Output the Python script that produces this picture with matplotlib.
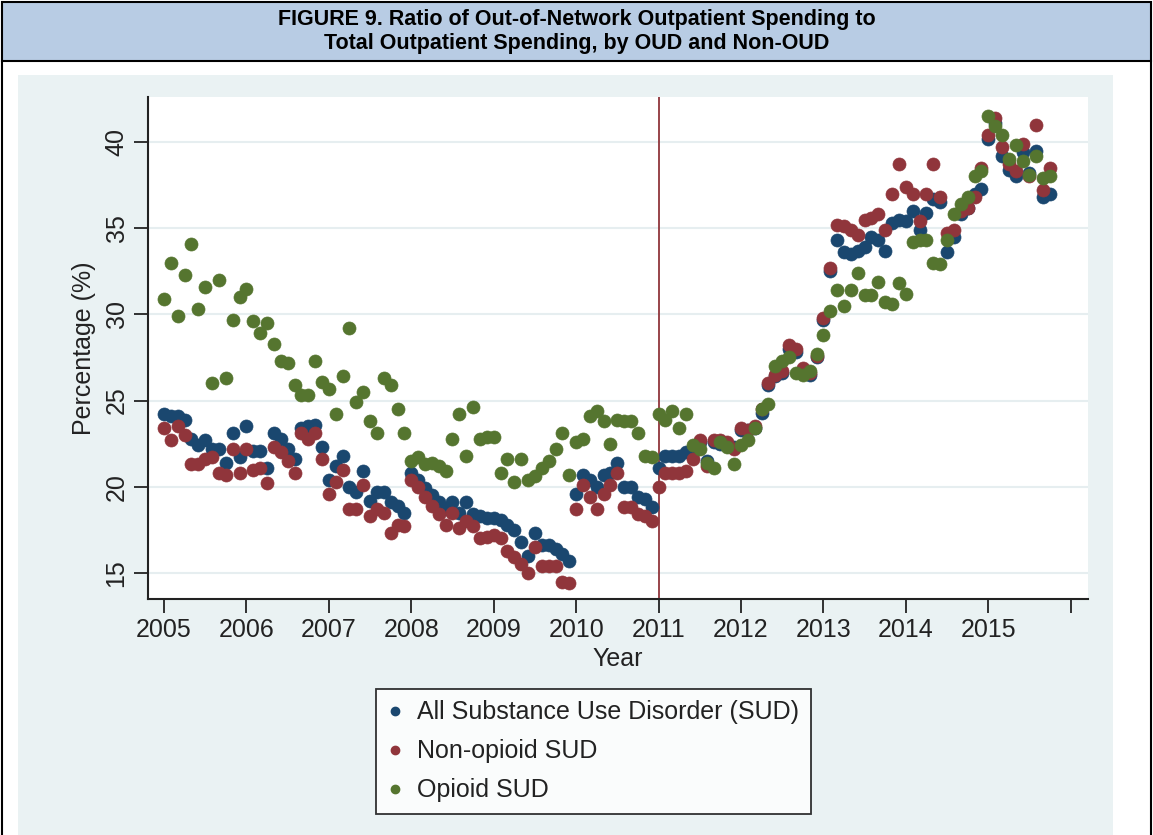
import numpy as np
import matplotlib
matplotlib.use("Agg")
import matplotlib.pyplot as plt
from matplotlib.patches import Rectangle
from matplotlib.lines import Line2D

# Monthly series, Jan 2005 - Oct 2015 (percent of outpatient spending out-of-network)
start_year = 2005
all_sud = [
    24.2, 24.1, 24.1, 23.9, 22.8, 22.4, 22.7, 22.2, 22.2, 21.4, 23.1, 21.7,  # 2005
    23.5, 22.1, 22.1, 21.1, 23.1, 22.8, 22.2, 21.6, 23.4, 23.5, 23.6, 22.3,  # 2006
    20.4, 21.2, 21.8, 20.0, 19.7, 20.9, 19.2, 19.7, 19.7, 19.1, 18.9, 18.5,  # 2007
    20.8, 20.4, 19.9, 19.5, 19.1, 18.7, 19.1, 18.5, 19.1, 18.4, 18.3, 18.2,  # 2008
    18.2, 18.1, 17.8, 17.5, 16.8, 16.0, 17.3, 16.6, 16.6, 16.4, 16.1, 15.7,  # 2009
    19.6, 20.7, 20.4, 20.0, 20.7, 20.8, 21.4, 20.0, 20.0, 19.4, 19.3, 18.8,  # 2010
    21.1, 21.8, 21.8, 21.8, 22.0, 22.0, 22.6, 21.5, 22.6, 22.5, 22.5, 22.3,  # 2011
    23.3, 23.3, 23.4, 24.3, 25.9, 26.4, 26.6, 28.0, 27.8, 26.8, 26.5, 27.5,  # 2012
    29.7, 32.5, 34.3, 33.6, 33.5, 33.7, 33.9, 34.5, 34.3, 33.7, 35.3, 35.5,  # 2013
    35.4, 36.0, 34.9, 35.9, 36.7, 36.5, 33.6, 34.5, 35.8, 36.2, 37.0, 37.3,  # 2014
    40.2, 41.1, 39.2, 38.4, 38.0, 39.4, 38.2, 39.5, 36.8, 37.0,              # 2015
]
non_opioid = [
    23.4, 22.7, 23.5, 23.0, 21.3, 21.3, 21.6, 21.7, 20.8, 20.7, 22.2, 20.8,
    22.2, 21.0, 21.1, 20.2, 22.3, 22.0, 21.5, 20.8, 23.1, 22.8, 23.1, 21.6,
    19.6, 20.3, 21.0, 18.7, 18.7, 20.1, 18.3, 18.7, 18.5, 17.3, 17.8, 17.7,
    20.4, 20.0, 19.4, 18.9, 18.4, 17.8, 18.5, 17.6, 18.0, 17.7, 17.0, 17.1,
    17.2, 17.0, 16.3, 15.9, 15.5, 15.0, 16.5, 15.4, 15.4, 15.4, 14.5, 14.4,
    18.7, 20.1, 19.4, 18.7, 19.6, 20.1, 20.8, 18.8, 18.8, 18.4, 18.3, 18.0,
    20.0, 20.8, 20.8, 20.8, 20.9, 21.6, 22.7, 21.2, 22.7, 22.7, 22.6, 22.2,
    23.4, 23.3, 23.5, 24.5, 26.0, 26.5, 26.7, 28.2, 28.0, 26.9, 26.6, 27.6,
    29.8, 32.7, 35.2, 35.1, 34.9, 34.6, 35.5, 35.6, 35.8, 34.9, 37.0, 38.7,
    37.4, 37.0, 35.4, 37.0, 38.7, 36.8, 34.7, 34.9, 36.0, 36.2, 36.8, 38.5,
    40.4, 41.4, 39.7, 38.7, 38.3, 39.9, 38.0, 41.0, 37.2, 38.5,
]
opioid = [
    30.9, 33.0, 29.9, 32.3, 34.1, 30.3, 31.6, 26.0, 32.0, 26.3, 29.7, 31.0,
    31.5, 29.6, 28.9, 29.5, 28.3, 27.3, 27.2, 25.9, 25.3, 25.3, 27.3, 26.1,
    25.7, 24.2, 26.4, 29.2, 24.9, 25.5, 23.8, 23.1, 26.3, 25.9, 24.5, 23.1,
    21.5, 21.7, 21.3, 21.4, 21.2, 20.9, 22.8, 24.2, 21.8, 24.6, 22.8, 22.9,
    22.9, 20.8, 21.6, 20.3, 21.6, 20.4, 20.6, 21.1, 21.5, 22.2, 23.1, 20.7,
    22.6, 22.8, 24.1, 24.4, 23.8, 22.5, 23.9, 23.8, 23.8, 23.1, 21.8, 21.7,
    24.2, 23.9, 24.4, 23.4, 24.2, 22.4, 22.2, 21.4, 21.1, 22.6, 22.3, 21.3,
    22.4, 22.7, 23.4, 24.5, 24.8, 27.0, 27.3, 27.5, 26.6, 26.5, 26.7, 27.7,
    28.8, 30.2, 31.4, 30.5, 31.4, 32.4, 31.1, 31.1, 31.9, 30.7, 30.6, 31.8,
    31.2, 34.2, 34.3, 34.3, 33.0, 32.9, 34.3, 35.8, 36.4, 36.8, 38.0, 38.3,
    41.5, 40.9, 40.4, 39.0, 39.8, 38.9, 38.1, 39.2, 37.9, 38.0,
]
labels = ["All Substance Use Disorder (SUD)", "Non-opioid SUD", "Opioid SUD"]
colors = ["#1a476f", "#90353b", "#55752f"]
year_ticks = list(range(2005, 2017))
y_ticks = [15, 20, 25, 30, 35, 40]
policy_year = 2011

months = np.arange(len(all_sud))
x = start_year + months / 12.0

W, H = 1153, 835
fig = plt.figure(figsize=(W / 100, H / 100), dpi=100)
fig.patch.set_facecolor("white")
plt.rcParams["font.family"] = ["Liberation Sans", "DejaVu Sans"]

# header band and outer frame
fig.add_artist(Rectangle((2 / W, 1 - 61 / H), 1149 / W, 59 / H, transform=fig.transFigure,
                         facecolor="#b8cce4", edgecolor="black", linewidth=1.5))
fig.add_artist(Line2D([2 / W, 2 / W], [0, 1 - 61 / H], transform=fig.transFigure, color="black", lw=1.5))
fig.add_artist(Line2D([1151 / W, 1151 / W], [0, 1 - 61 / H], transform=fig.transFigure, color="black", lw=1.5))
title_font = ["Liberation Sans Narrow", "Liberation Sans"]
fig.text(0.5, 1 - 19 / H, "FIGURE 9. Ratio of Out-of-Network Outpatient Spending to",
         ha="center", va="center", fontsize=15.5, fontweight="bold", family=title_font)
fig.text(0.5, 1 - 44 / H, "Total Outpatient Spending, by OUD and Non-OUD",
         ha="center", va="center", fontsize=15.5, fontweight="bold", family=title_font)

# graph background panel
fig.add_artist(Rectangle((18 / W, 0), (1113 - 18) / W, 1 - 75 / H, transform=fig.transFigure,
                         facecolor="#eaf2f3", edgecolor="none", zorder=0))

ax = fig.add_axes([148 / W, 1 - 599 / H, (1088 - 148) / W, (599 - 97) / H])
ax.set_facecolor("white")
ax.set_xlim(2004.806, 2016.21)
ax.set_ylim(13.49, 42.61)

for yt in y_ticks:
    ax.axhline(yt, color="#e6eef0", lw=1.5, zorder=1)

ax.axvline(policy_year, color="#90353b", lw=1.3, zorder=2)

for series, c, lab in zip([all_sud, non_opioid, opioid], colors, labels):
    ax.scatter(x, series, s=88, color=c, edgecolors=c, linewidths=0.5, zorder=3, label=lab)

ax.set_xticks(year_ticks)
ax.set_xticklabels([str(y) if y <= 2015 else "" for y in year_ticks])
ax.set_yticks(y_ticks)
ax.set_yticklabels([str(v) for v in y_ticks], rotation=90, va="center")
ax.tick_params(axis="both", direction="out", length=10, width=1.3, color="#222222",
               labelsize=18, labelcolor="#222222", pad=4)
for side in ["top", "right"]:
    ax.spines[side].set_visible(False)
for side in ["left", "bottom"]:
    ax.spines[side].set_linewidth(1.5)
    ax.spines[side].set_color("#222222")

ax.set_xlabel("Year", fontsize=18, color="#222222", labelpad=3)
ax.set_ylabel("Percentage (%)", fontsize=18, color="#222222", labelpad=6)

handles = [Line2D([], [], marker="o", linestyle="none", markersize=6, color=c) for c in colors]
leg = fig.legend(handles, labels, loc="upper left", bbox_to_anchor=(376 / W, 1 - 689 / H),
                 fontsize=18, frameon=True, fancybox=False, edgecolor="black",
                 handlelength=0.6, handletextpad=0.6, labelspacing=0.6, borderpad=0.45,
                 borderaxespad=0)
leg.get_frame().set_linewidth(1.3)
for t in leg.get_texts():
    t.set_color("#222222")

fig.savefig("out.png", dpi=100)
